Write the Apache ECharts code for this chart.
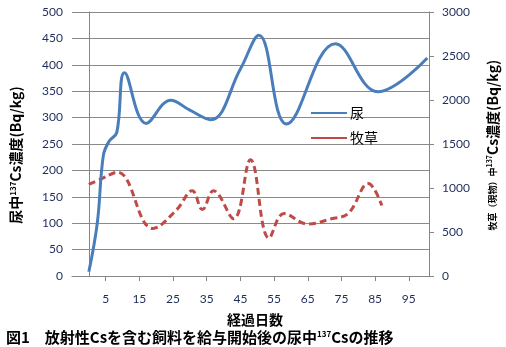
<!DOCTYPE html>
<html><head><meta charset="utf-8">
<script src="https://cdn.jsdelivr.net/npm/echarts@6/dist/echarts.min.js"></script>
<style>html,body{margin:0;padding:0;background:#fff}#c{width:506px;height:347px}</style>
</head><body><div id="c"></div>
<script>
// Urine (left axis, Bq/kg)
const urineDays = [0, 2.5, 4.3, 6, 8.3, 10.6, 17, 24.3, 30, 36.2, 45, 50.5, 58.7, 73.2, 85.8, 100.5];
const urineVals = [8, 100, 228, 255, 272, 385, 289, 333, 314, 296, 392, 456, 288, 440, 349, 413];
// Pasture grass (right axis, Bq/kg)
const grassDays = [0, 3.5, 8.5, 19, 26, 30.7, 33.7, 37, 43, 48, 53.5, 58, 65, 72, 77, 83, 87];
const grassVals = [1040, 1100, 1180, 540, 750, 970, 755, 970, 650, 1320, 430, 710, 590, 650, 710, 1050, 800];
const xTickLabels = ['5','15','25','35','45','55','65','75','85','95'];
const xMin = -5, xMax = 101;

const numFont = 'Lato, "Noto Sans", sans-serif';
const jpFont = '"Noto Sans CJK JP", sans-serif';
const axisColor = '#868686';
const gridColor = '#8a8a8a';
const labelColor = '#1F2D5A';

const chart = echarts.init(document.getElementById('c'), null, {renderer: 'canvas'});
chart.setOption({
  animation: false,
  backgroundColor: '#fff',
  grid: {left: 72, right: 77, top: 12, bottom: 71, containLabel: false},
  legend: {
    orient: 'vertical', left: 306, top: 101, itemGap: 11,
    itemWidth: 36, itemHeight: 10, icon: 'path://M0,4 L36,4 L36,6 L0,6 Z',
    textStyle: {fontFamily: jpFont, fontSize: 14, color: '#000', padding: [0,0,0,-2]},
    data: [
      {name: '尿', itemStyle: {color: '#4A7EBB'}},
      {name: '牧草', itemStyle: {color: '#BE4B48'}}
    ]
  },
  xAxis: {
    type: 'value', min: xMin, max: xMax, interval: 10,
    axisLine: {lineStyle: {color: axisColor}},
    axisTick: {show: true, length: 5, lineStyle: {color: axisColor}},
    splitLine: {show: false},
    axisLabel: {
      margin: 17, fontFamily: numFont, fontSize: 12, color: labelColor,
      showMinLabel: false, showMaxLabel: false,
      formatter: v => xTickLabels.includes(String(v)) ? String(v) : ''
    }
  },
  yAxis: [
    {
      type: 'value', min: 0, max: 500, interval: 50, position: 'left', alignTicks: false,
      axisLine: {show: true, lineStyle: {color: axisColor}},
      axisTick: {show: true, inside: false, length: 5, lineStyle: {color: axisColor}},
      splitLine: {show: true, lineStyle: {color: gridColor, width: 1, type: 'solid'}},
      axisLabel: {margin: 9, fontFamily: numFont, fontSize: 12, color: labelColor}
    },
    {
      type: 'value', min: 0, max: 3000, interval: 500, position: 'right', alignTicks: false,
      axisLine: {show: true, lineStyle: {color: axisColor}},
      axisTick: {show: true, inside: false, length: 5, lineStyle: {color: axisColor}},
      splitLine: {show: false},
      axisLabel: {margin: 13, fontFamily: numFont, fontSize: 12, color: labelColor, formatter: v => String(v)}
    }
  ],
  series: [
    {
      name: '尿', type: 'line', yAxisIndex: 0, smooth: 0.4, showSymbol: false,
      data: urineDays.map((d, i) => [d, urineVals[i]]),
      lineStyle: {color: '#4A7EBB', width: 3}, itemStyle: {color: '#4A7EBB'}, z: 3
    },
    {
      name: '牧草', type: 'line', yAxisIndex: 1, smooth: 0.4, showSymbol: false,
      data: grassDays.map((d, i) => [d, grassVals[i]]),
      lineStyle: {color: '#BE4B48', width: 3, type: [7, 4]}, itemStyle: {color: '#BE4B48'}, z: 2
    }
  ],
  graphic: [
    {
      type: 'text', x: 16, y: 155, rotation: Math.PI / 2,
      style: {
        text: '{a|尿中}{s|137}{a|Cs濃度(Bq/kg)}',
        align: 'center', verticalAlign: 'middle', fill: '#000',
        rich: {
          a: {fontFamily: jpFont, fontSize: 14, fontWeight: 'bold', fill: '#000'},
          s: {fontFamily: jpFont, fontSize: 8, fontWeight: 'bold', verticalAlign: 'top', fill: '#000'}
        }
      }
    },
    {
      type: 'text', x: 493, y: 145, rotation: Math.PI / 2,
      style: {
        text: '{b|牧草（現物）中}{s|137}{a|Cs濃度(Bq/kg)}',
        align: 'center', verticalAlign: 'middle', fill: '#000',
        rich: {
          a: {fontFamily: jpFont, fontSize: 14, fontWeight: 'bold', fill: '#000'},
          b: {fontFamily: jpFont, fontSize: 9, fontWeight: 'bold', fill: '#000'},
          s: {fontFamily: jpFont, fontSize: 7, fontWeight: 'bold', verticalAlign: 'top', fill: '#000'}
        }
      }
    },
    {
      type: 'text', x: 255, y: 320,
      style: {text: '経過日数', align: 'center', verticalAlign: 'middle',
        font: 'bold 14px "Noto Sans CJK JP", sans-serif', fill: '#000'}
    },
    {
      type: 'text', x: 6, y: 337,
      style: {
        text: '{a|図1　放射性Csを含む飼料を給与開始後の尿中}{s|137}{a|Csの推移}',
        align: 'left', verticalAlign: 'middle', fill: '#000',
        rich: {
          a: {fontFamily: jpFont, fontSize: 15, fontWeight: 'bold', fill: '#000'},
          s: {fontFamily: jpFont, fontSize: 8, fontWeight: 'bold', verticalAlign: 'top', fill: '#000'}
        }
      }
    }
  ]
});
</script></body></html>
